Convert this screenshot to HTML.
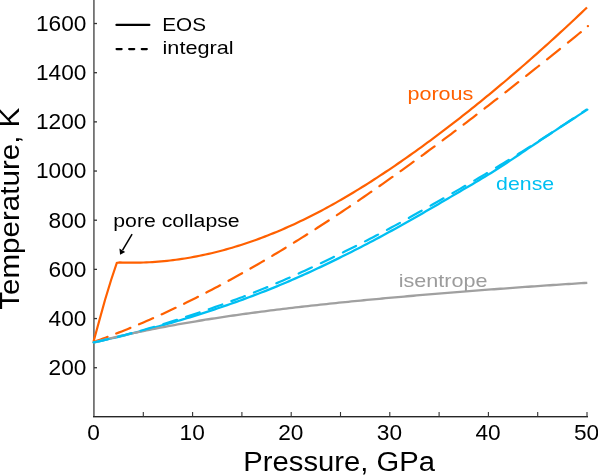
<!DOCTYPE html>
<html><head><meta charset="utf-8"><style>
html,body{margin:0;padding:0;background:#fff;}
body{width:598px;height:475px;overflow:hidden;}
svg{display:block;will-change:transform;font-family:"Liberation Sans",sans-serif;}
</style></head><body>
<svg width="598" height="475" viewBox="0 0 598 475">
<rect width="598" height="475" fill="#fff"/>
<rect x="93" y="0" width="1" height="417" fill="#727272"/>
<rect x="94" y="0" width="1" height="417" fill="#8e8e8e"/>
<rect x="93" y="416" width="495" height="1" fill="#262626"/>
<rect x="93" y="417" width="495" height="1" fill="#a8a8a8"/>
<line x1="143.30" y1="412" x2="143.30" y2="416.5" stroke="#333" stroke-width="1.1"/>
<line x1="192.60" y1="412" x2="192.60" y2="416.5" stroke="#333" stroke-width="1.1"/>
<line x1="241.90" y1="412" x2="241.90" y2="416.5" stroke="#333" stroke-width="1.1"/>
<line x1="291.20" y1="412" x2="291.20" y2="416.5" stroke="#333" stroke-width="1.1"/>
<line x1="340.50" y1="412" x2="340.50" y2="416.5" stroke="#333" stroke-width="1.1"/>
<line x1="389.80" y1="412" x2="389.80" y2="416.5" stroke="#333" stroke-width="1.1"/>
<line x1="439.10" y1="412" x2="439.10" y2="416.5" stroke="#333" stroke-width="1.1"/>
<line x1="488.40" y1="412" x2="488.40" y2="416.5" stroke="#333" stroke-width="1.1"/>
<line x1="537.70" y1="412" x2="537.70" y2="416.5" stroke="#333" stroke-width="1.1"/>
<line x1="587.00" y1="412" x2="587.00" y2="416.5" stroke="#333" stroke-width="1.1"/>
<line x1="94" y1="367.73" x2="97.0" y2="367.73" stroke="#333" stroke-width="1.3"/>
<line x1="94" y1="318.56" x2="97.0" y2="318.56" stroke="#333" stroke-width="1.3"/>
<line x1="94" y1="269.38" x2="97.0" y2="269.38" stroke="#333" stroke-width="1.3"/>
<line x1="94" y1="220.21" x2="97.0" y2="220.21" stroke="#333" stroke-width="1.3"/>
<line x1="94" y1="171.04" x2="97.0" y2="171.04" stroke="#333" stroke-width="1.3"/>
<line x1="94" y1="121.87" x2="97.0" y2="121.87" stroke="#333" stroke-width="1.3"/>
<line x1="94" y1="72.70" x2="97.0" y2="72.70" stroke="#333" stroke-width="1.3"/>
<line x1="94" y1="23.52" x2="97.0" y2="23.52" stroke="#333" stroke-width="1.3"/>
<path d="M93.50,341.80 L97.80,326.00 L105.00,300.00 L111.10,280.00 L116.80,262.90 L119.76,262.45 L122.71,262.55 L125.67,262.62 L128.63,262.67 L131.59,262.69 L134.54,262.68 L137.50,262.65 L140.46,262.58 L143.42,262.50 L146.37,262.38 L149.33,262.24 L152.29,262.07 L155.24,261.87 L158.20,261.65 L161.16,261.40 L164.12,261.13 L167.07,260.82 L170.03,260.50 L172.99,260.14 L175.94,259.76 L178.90,259.36 L181.86,258.92 L184.82,258.47 L187.77,257.98 L190.73,257.47 L193.69,256.94 L196.65,256.38 L199.60,255.79 L202.56,255.18 L205.52,254.54 L208.47,253.88 L211.43,253.20 L214.39,252.48 L217.35,251.75 L220.30,250.99 L223.26,250.20 L226.22,249.39 L229.17,248.55 L232.13,247.69 L235.09,246.81 L238.05,245.90 L241.00,244.97 L243.96,244.01 L246.92,243.03 L249.88,242.03 L252.83,241.00 L255.79,239.94 L258.75,238.87 L261.70,237.77 L264.66,236.64 L267.62,235.50 L270.58,234.33 L273.53,233.13 L276.49,231.92 L279.45,230.68 L282.41,229.41 L285.36,228.13 L288.32,226.82 L291.28,225.48 L294.23,224.13 L297.19,222.75 L300.15,221.35 L303.11,219.93 L306.06,218.49 L309.02,217.02 L311.98,215.53 L314.93,214.02 L317.89,212.48 L320.85,210.93 L323.81,209.35 L326.76,207.76 L329.72,206.14 L332.68,204.50 L335.64,202.84 L338.59,201.16 L341.55,199.46 L344.51,197.75 L347.46,196.01 L350.42,194.25 L353.38,192.48 L356.34,190.68 L359.29,188.87 L362.25,187.04 L365.21,185.20 L368.16,183.33 L371.12,181.45 L374.08,179.55 L377.04,177.63 L379.99,175.70 L382.95,173.75 L385.91,171.79 L388.87,169.81 L391.82,167.81 L394.78,165.80 L397.74,163.77 L400.69,161.73 L403.65,159.68 L406.61,157.61 L409.57,155.52 L412.52,153.42 L415.48,151.31 L418.44,149.18 L421.39,147.04 L424.35,144.88 L427.31,142.71 L430.27,140.53 L433.22,138.34 L436.18,136.13 L439.14,133.91 L442.10,131.67 L445.05,129.43 L448.01,127.17 L450.97,124.90 L453.92,122.62 L456.88,120.32 L459.84,118.01 L462.80,115.70 L465.75,113.37 L468.71,111.02 L471.67,108.67 L474.63,106.30 L477.58,103.92 L480.54,101.53 L483.50,99.13 L486.45,96.71 L489.41,94.28 L492.37,91.84 L495.33,89.39 L498.28,86.93 L501.24,84.45 L504.20,81.97 L507.15,79.47 L510.11,76.96 L513.07,74.43 L516.03,71.90 L518.98,69.35 L521.94,66.79 L524.90,64.22 L527.86,61.64 L530.81,59.04 L533.77,56.43 L536.73,53.81 L539.68,51.18 L542.64,48.54 L545.60,45.88 L548.56,43.22 L551.51,40.54 L554.47,37.85 L557.43,35.14 L560.38,32.43 L563.34,29.70 L566.30,26.96 L569.26,24.21 L572.21,21.45 L575.17,18.68 L578.13,15.89 L581.09,13.09 L584.04,10.28 L587.00,7.46" fill="none" stroke="#ff6000" stroke-width="2.2" stroke-linejoin="miter" stroke-miterlimit="10"/>
<path d="M93.70,342.40 L96.81,340.83 L99.92,339.71 L103.02,338.57 L106.13,337.42 L109.24,336.25 L112.35,335.06 L115.45,333.86 L118.56,332.65 L121.67,331.42 L124.78,330.17 L127.88,328.92 L130.99,327.64 L134.10,326.36 L137.21,325.05 L140.31,323.74 L143.42,322.41 L146.53,321.06 L149.64,319.70 L152.74,318.33 L155.85,316.95 L158.96,315.55 L162.07,314.13 L165.17,312.71 L168.28,311.27 L171.39,309.81 L174.50,308.34 L177.60,306.86 L180.71,305.37 L183.82,303.86 L186.93,302.34 L190.03,300.81 L193.14,299.26 L196.25,297.70 L199.36,296.13 L202.46,294.55 L205.57,292.95 L208.68,291.34 L211.79,289.72 L214.89,288.09 L218.00,286.44 L221.11,284.78 L224.22,283.11 L227.32,281.43 L230.43,279.73 L233.54,278.03 L236.65,276.31 L239.75,274.58 L242.86,272.84 L245.97,271.09 L249.08,269.32 L252.18,267.55 L255.29,265.76 L258.40,263.96 L261.51,262.15 L264.62,260.33 L267.72,258.50 L270.83,256.66 L273.94,254.81 L277.05,252.94 L280.15,251.07 L283.26,249.19 L286.37,247.29 L289.48,245.39 L292.58,243.47 L295.69,241.54 L298.80,239.61 L301.91,237.66 L305.01,235.71 L308.12,233.74 L311.23,231.77 L314.34,229.78 L317.44,227.78 L320.55,225.78 L323.66,223.77 L326.77,221.74 L329.87,219.71 L332.98,217.67 L336.09,215.62 L339.20,213.56 L342.30,211.49 L345.41,209.41 L348.52,207.32 L351.63,205.22 L354.73,203.12 L357.84,201.01 L360.95,198.89 L364.06,196.76 L367.16,194.62 L370.27,192.47 L373.38,190.32 L376.49,188.15 L379.59,185.98 L382.70,183.80 L385.81,181.62 L388.92,179.42 L392.02,177.22 L395.13,175.01 L398.24,172.79 L401.35,170.57 L404.45,168.33 L407.56,166.09 L410.67,163.85 L413.78,161.59 L416.88,159.33 L419.99,157.06 L423.10,154.79 L426.21,152.51 L429.32,150.22 L432.42,147.92 L435.53,145.62 L438.64,143.31 L441.75,141.00 L444.85,138.68 L447.96,136.35 L451.07,134.01 L454.18,131.68 L457.28,129.33 L460.39,126.98 L463.50,124.62 L466.61,122.26 L469.71,119.89 L472.82,117.51 L475.93,115.13 L479.04,112.75 L482.14,110.36 L485.25,107.96 L488.36,105.56 L491.47,103.15 L494.57,100.74 L497.68,98.33 L500.79,95.90 L503.90,93.48 L507.00,91.05 L510.11,88.61 L513.22,86.17 L516.33,83.73 L519.43,81.28 L522.54,78.83 L525.65,76.37 L528.76,73.91 L531.86,71.44 L534.97,68.97 L538.08,66.50 L541.19,64.02 L544.29,61.54 L547.40,59.05 L550.51,56.57 L553.62,54.07 L556.72,51.58 L559.83,49.08 L562.94,46.58 L566.05,44.07 L569.15,41.57 L572.26,39.05 L575.37,36.54 L578.48,34.02 L581.58,31.50 L584.69,28.98 L587.80,26.46" fill="none" stroke="#ff6000" stroke-width="2.2" stroke-linecap="round" stroke-dasharray="14.95 9.29 15.27 9.33 15.33 9.37 15.40 9.42 15.46 9.46 15.53 9.50 15.59 9.55 15.66 9.59 15.72 9.63 15.79 9.68 15.85 9.72 15.92 9.76 15.99 9.81 16.05 9.85 16.12 9.89 16.18 9.94 16.25 9.98 16.31 10.02 16.38 10.06 16.44 10.11 16.51 10.15 16.58 10.19 16.64 1000.00"/>
<path d="M93.70,342.40 L96.80,341.83 L99.91,341.13 L103.01,340.42 L106.12,339.70 L109.22,338.98 L112.33,338.25 L115.43,337.52 L118.54,336.77 L121.64,336.02 L124.74,335.26 L127.85,334.49 L130.95,333.72 L134.06,332.93 L137.16,332.14 L140.27,331.34 L143.37,330.53 L146.47,329.71 L149.58,328.88 L152.68,328.04 L155.79,327.20 L158.89,326.34 L162.00,325.48 L165.10,324.61 L168.21,323.72 L171.31,322.83 L174.41,321.93 L177.52,321.02 L180.62,320.10 L183.73,319.17 L186.83,318.23 L189.94,317.28 L193.04,316.32 L196.15,315.35 L199.25,314.37 L202.35,313.38 L205.46,312.38 L208.56,311.37 L211.67,310.35 L214.77,309.32 L217.88,308.28 L220.98,307.23 L224.08,306.17 L227.19,305.10 L230.29,304.02 L233.40,302.93 L236.50,301.82 L239.61,300.71 L242.71,299.58 L245.82,298.44 L248.92,297.29 L252.02,296.12 L255.13,294.95 L258.23,293.76 L261.34,292.55 L264.44,291.34 L267.55,290.11 L270.65,288.86 L273.76,287.61 L276.86,286.34 L279.96,285.05 L283.07,283.75 L286.17,282.44 L289.28,281.11 L292.38,279.77 L295.49,278.42 L298.59,277.05 L301.69,275.67 L304.80,274.27 L307.90,272.86 L311.01,271.44 L314.11,270.01 L317.22,268.56 L320.32,267.11 L323.43,265.64 L326.53,264.16 L329.63,262.66 L332.74,261.16 L335.84,259.65 L338.95,258.12 L342.05,256.58 L345.16,255.04 L348.26,253.48 L351.37,251.91 L354.47,250.34 L357.57,248.75 L360.68,247.15 L363.78,245.54 L366.89,243.93 L369.99,242.30 L373.10,240.66 L376.20,239.01 L379.31,237.36 L382.41,235.69 L385.51,234.01 L388.62,232.32 L391.72,230.63 L394.83,228.92 L397.93,227.20 L401.04,225.48 L404.14,223.74 L407.24,222.00 L410.35,220.25 L413.45,218.48 L416.56,216.71 L419.66,214.94 L422.77,213.15 L425.87,211.36 L428.98,209.56 L432.08,207.76 L435.18,205.95 L438.29,204.14 L441.39,202.32 L444.50,200.50 L447.60,198.69 L450.71,196.87 L453.81,195.06 L456.92,193.24 L460.02,191.43 L463.12,189.61 L466.23,187.80 L469.33,185.98 L472.44,184.15 L475.54,182.32 L478.65,180.47 L481.75,178.61 L484.85,176.74 L487.96,174.84 L491.06,172.92 L494.17,170.97 L497.27,169.00 L500.38,167.01 L503.48,165.00 L506.59,162.97 L509.69,160.91 L512.79,158.85 L515.90,156.77 L519.00,154.69 L522.11,152.60 L525.21,150.51 L528.32,148.42 L531.42,146.33 L534.53,144.25 L537.63,142.18 L540.73,140.11 L543.84,138.05 L546.94,135.99 L550.05,133.94 L553.15,131.90 L556.26,129.85 L559.36,127.82 L562.46,125.78 L565.57,123.75 L568.67,121.72 L571.78,119.70 L574.88,117.67 L577.99,115.65 L581.09,113.63 L584.20,111.61 L587.30,109.59" fill="none" stroke="#00bff2" stroke-width="2.3" stroke-linecap="round"/>
<path d="M93.70,342.40 L96.80,341.64 L99.91,340.87 L103.01,340.11 L106.12,339.35 L109.22,338.61 L112.33,337.88 L115.43,337.15 L118.54,336.44 L121.64,335.73 L124.74,335.04 L127.85,334.35 L130.95,333.67 L134.06,333.00 L137.16,332.34 L140.27,331.69 L143.37,331.04 L146.47,330.41 L149.58,329.78 L152.68,329.16 L155.79,328.55 L158.89,327.95 L162.00,327.35 L165.10,326.76 L168.21,326.18 L171.31,325.61 L174.41,325.04 L177.52,324.48 L180.62,323.93 L183.73,323.38 L186.83,322.84 L189.94,322.31 L193.04,321.78 L196.15,321.27 L199.25,320.75 L202.35,320.25 L205.46,319.74 L208.56,319.25 L211.67,318.76 L214.77,318.28 L217.88,317.80 L220.98,317.33 L224.08,316.86 L227.19,316.40 L230.29,315.95 L233.40,315.50 L236.50,315.05 L239.61,314.61 L242.71,314.18 L245.82,313.75 L248.92,313.32 L252.02,312.90 L255.13,312.49 L258.23,312.08 L261.34,311.67 L264.44,311.27 L267.55,310.87 L270.65,310.47 L273.76,310.08 L276.86,309.70 L279.96,309.32 L283.07,308.94 L286.17,308.56 L289.28,308.19 L292.38,307.83 L295.49,307.46 L298.59,307.10 L301.69,306.75 L304.80,306.40 L307.90,306.05 L311.01,305.70 L314.11,305.36 L317.22,305.02 L320.32,304.68 L323.43,304.35 L326.53,304.02 L329.63,303.69 L332.74,303.36 L335.84,303.04 L338.95,302.72 L342.05,302.40 L345.16,302.09 L348.26,301.78 L351.37,301.47 L354.47,301.16 L357.57,300.86 L360.68,300.55 L363.78,300.25 L366.89,299.96 L369.99,299.66 L373.10,299.37 L376.20,299.08 L379.31,298.79 L382.41,298.50 L385.51,298.21 L388.62,297.93 L391.72,297.65 L394.83,297.37 L397.93,297.09 L401.04,296.81 L404.14,296.54 L407.24,296.27 L410.35,296.00 L413.45,295.73 L416.56,295.46 L419.66,295.19 L422.77,294.93 L425.87,294.67 L428.98,294.40 L432.08,294.14 L435.18,293.89 L438.29,293.63 L441.39,293.37 L444.50,293.12 L447.60,292.87 L450.71,292.61 L453.81,292.36 L456.92,292.12 L460.02,291.87 L463.12,291.62 L466.23,291.38 L469.33,291.13 L472.44,290.89 L475.54,290.65 L478.65,290.41 L481.75,290.17 L484.85,289.93 L487.96,289.70 L491.06,289.46 L494.17,289.23 L497.27,289.00 L500.38,288.76 L503.48,288.53 L506.59,288.30 L509.69,288.08 L512.79,287.85 L515.90,287.62 L519.00,287.40 L522.11,287.18 L525.21,286.96 L528.32,286.73 L531.42,286.52 L534.53,286.30 L537.63,286.08 L540.73,285.87 L543.84,285.65 L546.94,285.44 L550.05,285.23 L553.15,285.02 L556.26,284.81 L559.36,284.60 L562.46,284.39 L565.57,284.19 L568.67,283.99 L571.78,283.78 L574.88,283.58 L577.99,283.39 L581.09,283.19 L584.20,282.99 L587.30,282.80" fill="none" stroke="#a0a0a0" stroke-width="2.3"/>
<path d="M93.70,342.40 L96.80,341.78 L99.91,341.07 L103.01,340.35 L106.12,339.62 L109.22,338.88 L112.33,338.12 L115.43,337.36 L118.54,336.58 L121.64,335.79 L124.74,334.99 L127.85,334.18 L130.95,333.35 L134.06,332.52 L137.16,331.67 L140.27,330.82 L143.37,329.95 L146.47,329.07 L149.58,328.18 L152.68,327.28 L155.79,326.36 L158.89,325.44 L162.00,324.51 L165.10,323.56 L168.21,322.61 L171.31,321.64 L174.41,320.67 L177.52,319.68 L180.62,318.69 L183.73,317.68 L186.83,316.67 L189.94,315.64 L193.04,314.61 L196.15,313.57 L199.25,312.52 L202.35,311.46 L205.46,310.39 L208.56,309.31 L211.67,308.23 L214.77,307.14 L217.88,306.04 L220.98,304.93 L224.08,303.81 L227.19,302.68 L230.29,301.55 L233.40,300.40 L236.50,299.25 L239.61,298.08 L242.71,296.91 L245.82,295.72 L248.92,294.52 L252.02,293.31 L255.13,292.08 L258.23,290.85 L261.34,289.60 L264.44,288.33 L267.55,287.05 L270.65,285.76 L273.76,284.45 L276.86,283.13 L279.96,281.79 L283.07,280.44 L286.17,279.08 L289.28,277.70 L292.38,276.32 L295.49,274.92 L298.59,273.51 L301.69,272.09 L304.80,270.66 L307.90,269.22 L311.01,267.77 L314.11,266.31 L317.22,264.85 L320.32,263.38 L323.43,261.90 L326.53,260.41 L329.63,258.92 L332.74,257.42 L335.84,255.91 L338.95,254.39 L342.05,252.87 L345.16,251.34 L348.26,249.80 L351.37,248.26 L354.47,246.71 L357.57,245.14 L360.68,243.57 L363.78,241.99 L366.89,240.40 L369.99,238.81 L373.10,237.20 L376.20,235.58 L379.31,233.95 L382.41,232.31 L385.51,230.65 L388.62,228.99 L391.72,227.32 L394.83,225.63 L397.93,223.94 L401.04,222.23 L404.14,220.52 L407.24,218.79 L410.35,217.06 L413.45,215.32 L416.56,213.58 L419.66,211.83 L422.77,210.07 L425.87,208.31 L428.98,206.55 L432.08,204.78 L435.18,203.02 L438.29,201.25 L441.39,199.48 L444.50,197.71 L447.60,195.94 L450.71,194.17 L453.81,192.39 L456.92,190.62 L460.02,188.84 L463.12,187.05 L466.23,185.26 L469.33,183.47 L472.44,181.67 L475.54,179.86 L478.65,178.04 L481.75,176.21 L484.85,174.38 L487.96,172.53 L491.06,170.68 L494.17,168.81 L497.27,166.94 L500.38,165.05 L503.48,163.16 L506.59,161.25 L509.69,159.34 L512.79,157.42 L515.90,155.49 L519.00,153.55 L522.11,151.60 L525.21,149.64 L528.32,147.68 L531.42,145.70 L534.53,143.72 L537.63,141.74 L540.73,139.74 L543.84,137.74 L546.94,135.73 L550.05,133.72 L553.15,131.70 L556.26,129.67 L559.36,127.63 L562.46,125.59 L565.57,123.55 L568.67,121.49 L571.78,119.43 L574.88,117.37 L577.99,115.29 L581.09,113.21 L584.20,111.13 L587.30,109.04" fill="none" stroke="#00bff2" stroke-width="2.2" stroke-linecap="round" stroke-dasharray="0.00 1.26 14.10 9.40 14.15 9.45 14.20 9.51 14.25 9.57 14.30 9.63 14.35 9.68 14.40 9.74 14.45 9.80 14.50 9.86 14.55 9.91 14.60 9.97 14.65 10.03 14.70 10.09 14.75 10.14 14.80 10.20 14.85 10.26 14.90 10.32 14.95 10.37 15.00 10.43 15.05 10.49 15.10 10.55 15.15 10.60 5.04 1000.00"/>
<circle cx="587.9" cy="26.1" r="1.2" fill="#ff6000"/>
<text transform="translate(86.40 375.13) scale(1.0650 1)" font-size="21.30" fill="#000" text-anchor="end">200</text>
<text transform="translate(86.40 325.96) scale(1.0650 1)" font-size="21.30" fill="#000" text-anchor="end">400</text>
<text transform="translate(86.40 276.78) scale(1.0650 1)" font-size="21.30" fill="#000" text-anchor="end">600</text>
<text transform="translate(86.40 227.61) scale(1.0650 1)" font-size="21.30" fill="#000" text-anchor="end">800</text>
<text transform="translate(86.40 178.44) scale(1.0650 1)" font-size="21.30" fill="#000" text-anchor="end">1000</text>
<text transform="translate(86.40 129.27) scale(1.0650 1)" font-size="21.30" fill="#000" text-anchor="end">1200</text>
<text transform="translate(86.40 80.10) scale(1.0650 1)" font-size="21.30" fill="#000" text-anchor="end">1400</text>
<text transform="translate(86.40 30.92) scale(1.0650 1)" font-size="21.30" fill="#000" text-anchor="end">1600</text>
<text transform="translate(93.60 439.90) scale(1.0650 1)" font-size="21.30" fill="#000" text-anchor="middle">0</text>
<text transform="translate(192.20 439.90) scale(1.0650 1)" font-size="21.30" fill="#000" text-anchor="middle">10</text>
<text transform="translate(290.80 439.90) scale(1.0650 1)" font-size="21.30" fill="#000" text-anchor="middle">20</text>
<text transform="translate(389.40 439.90) scale(1.0650 1)" font-size="21.30" fill="#000" text-anchor="middle">30</text>
<text transform="translate(488.00 439.90) scale(1.0650 1)" font-size="21.30" fill="#000" text-anchor="middle">40</text>
<text transform="translate(586.60 439.90) scale(1.0650 1)" font-size="21.30" fill="#000" text-anchor="middle">50</text>
<text transform="translate(243.30 470.80) scale(1.0515 1)" font-size="27.80" fill="#000" text-anchor="start">Pressure, GPa</text>
<text transform="translate(19.0 309.75) rotate(-90) scale(1.0635 1)" font-size="27.80" fill="#000">Temperature, K</text>
<line x1="116.5" y1="24.9" x2="149.3" y2="24.9" stroke="#000" stroke-width="2.3" stroke-linecap="round"/>
<line x1="116.6" y1="49.1" x2="147" y2="49.1" stroke="#000" stroke-width="2.3" stroke-linecap="round" stroke-dasharray="5 7.6"/>
<text transform="translate(162.30 31.30) scale(1.1259 1)" font-size="18.40" fill="#000" text-anchor="start">EOS</text>
<text transform="translate(162.55 53.50) scale(1.1782 1)" font-size="18.40" fill="#000" text-anchor="start">integral</text>
<text transform="translate(113.24 227.40) scale(1.1068 1)" font-size="19.20" fill="#000" text-anchor="start">pore collapse</text>
<text transform="translate(407.42 100.10) scale(1.1234 1)" font-size="19.20" fill="#ff6000" text-anchor="start">porous</text>
<text transform="translate(496.11 189.70) scale(1.1096 1)" font-size="19.20" fill="#00bff2" text-anchor="start">dense</text>
<text transform="translate(398.75 286.80) scale(1.1242 1)" font-size="19.20" fill="#9c9c9c" text-anchor="start">isentrope</text>
<line x1="132.1" y1="234.1" x2="122.6" y2="250.2" stroke="#000" stroke-width="1.5"/>
<polygon points="120.1,254.8 119.4,248.6 125.2,252.0" fill="#000"/>
</svg>
</body></html>
